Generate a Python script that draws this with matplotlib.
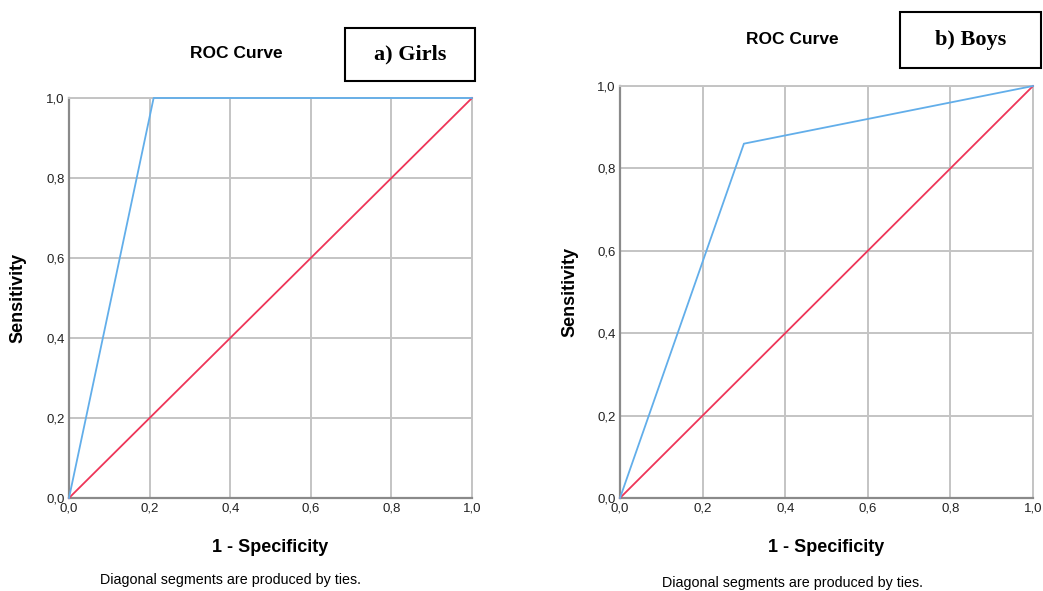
import matplotlib
matplotlib.use("Agg")
import matplotlib.pyplot as plt
from matplotlib.patches import Rectangle
from matplotlib.ticker import FuncFormatter

# ROC points (1 - specificity, sensitivity)
girls_fpr = [0.0, 0.21, 1.0]
girls_tpr = [0.0, 1.0, 1.0]
boys_fpr = [0.0, 0.30, 1.0]
boys_tpr = [0.0, 0.86, 1.0]
ref_line = [0.0, 1.0]
ticks = [0.0, 0.2, 0.4, 0.6, 0.8, 1.0]

W, H = 1043, 591
BLUE = "#62aeea"
RED = "#ee3558"
GRID = "#c4c4c4"
SANS = "Liberation Sans"
SERIF = "Liberation Serif"

fig = plt.figure(figsize=(W / 100, H / 100), dpi=100)
fig.patch.set_facecolor("white")


def px(x, y):
    return x / W, 1 - y / H


def roc_panel(rect, fpr, tpr):
    ax = fig.add_axes(rect)
    ax.plot(ref_line, ref_line, color=RED, lw=1.3, zorder=3, clip_on=False)
    ax.plot(fpr, tpr, color=BLUE, lw=1.3, zorder=4, clip_on=False)
    ax.set_xlim(0, 1)
    ax.set_ylim(0, 1)
    ax.set_xticks(ticks)
    ax.set_yticks(ticks)
    fmt = FuncFormatter(lambda v, p: f"{v:.1f}".replace(".", ","))
    ax.xaxis.set_major_formatter(fmt)
    ax.yaxis.set_major_formatter(fmt)
    ax.grid(True, color=GRID, lw=1.4, zorder=0)
    for s in ["top", "right"]:
        ax.spines[s].set_color(GRID)
        ax.spines[s].set_linewidth(1.4)
    for s in ["left", "bottom"]:
        ax.spines[s].set_color("#8a8a8a")
        ax.spines[s].set_linewidth(1.6)
    ax.tick_params(length=0, labelsize=9.5, pad=3, colors="#222222")
    for lab in ax.get_xticklabels() + ax.get_yticklabels():
        lab.set_family(SANS)
    return ax


# left panel: girls
x0, y1 = px(69, 498)
x1, y0 = px(472, 98)
roc_panel([x0, y1, x1 - x0, y0 - y1], girls_fpr, girls_tpr)

# right panel: boys
x0, y1 = px(620, 498)
x1, y0 = px(1033, 86)
roc_panel([x0, y1, x1 - x0, y0 - y1], boys_fpr, boys_tpr)

# text around the panels
for (tx, ty), (xx, xy), (yx, yy), (nx, ny) in [
    ((236, 53), (270, 548), (18, 298), (230, 580)),
    ((792, 40), (826, 548), (570, 292), (793, 583)),
]:
    fig.text(*px(tx, ty), "ROC Curve", ha="center", va="center",
             fontsize=12.5, fontweight="bold", family=SANS)
    fig.text(*px(xx, xy), "1 - Specificity", ha="center", va="center",
             fontsize=13, fontweight="bold", family=SANS)
    fig.text(*px(yx, yy), "Sensitivity", ha="center", va="center",
             rotation=90, fontsize=13, fontweight="bold", family=SANS)
    fig.text(*px(nx, ny), "Diagonal segments are produced by ties.",
             ha="center", va="center", fontsize=10.3, family=SANS)

# panel tags in boxes
for (bx0, by0, bx1, by1), label in [((345, 28, 475, 81), "a) Girls"),
                                   ((900, 12, 1041, 68), "b) Boys")]:
    ax0, ay1 = px(bx0, by1)
    ax1, ay0 = px(bx1, by0)
    fig.add_artist(Rectangle((ax0, ay1), ax1 - ax0, ay0 - ay1,
                             transform=fig.transFigure, fill=False,
                             edgecolor="black", lw=1.5))
    fig.text((ax0 + ax1) / 2, (ay0 + ay1) / 2, label, ha="center",
             va="center", fontsize=16, fontweight="bold", family=SERIF)

fig.savefig("out.png", dpi=100)
